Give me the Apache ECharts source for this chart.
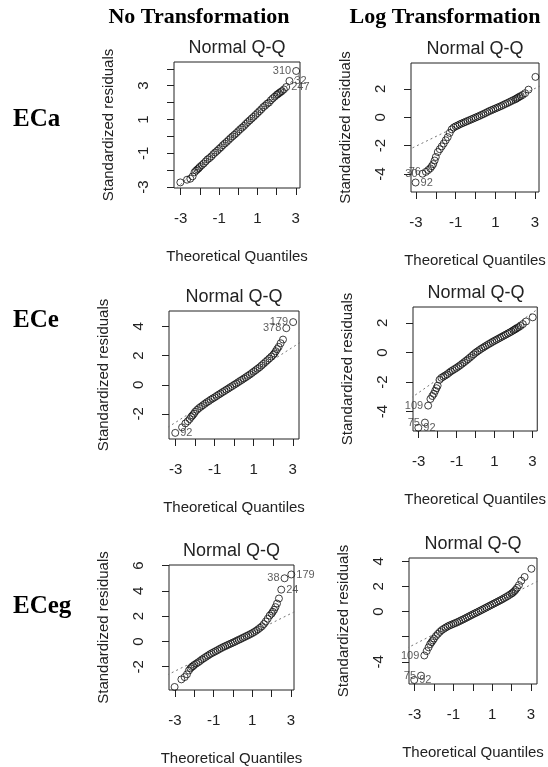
<!DOCTYPE html>
<html>
<head>
<meta charset="utf-8">
<script src="https://cdn.jsdelivr.net/npm/echarts@6/dist/echarts.min.js"></script>
<style>
  html, body { margin: 0; padding: 0; background: #fff; }
  #chart { width: 548px; height: 767px; }
</style>
</head>
<body>
<div id="chart"></div>
<script>
// theoretical quantiles, shared by the six panels
const quantiles = [-3.02, -2.67, -2.5, -2.38, -2.28, -2.2, -2.13, -2.06, -2.0,
  -1.9, -1.8, -1.7, -1.6, -1.5, -1.4, -1.3, -1.2, -1.1, -1.0,
  -0.9, -0.8, -0.7, -0.6, -0.5, -0.4, -0.3, -0.2, -0.1, 0.0,
  0.1, 0.2, 0.3, 0.4, 0.5, 0.6, 0.7, 0.8, 0.9, 1.0,
  1.1, 1.2, 1.3, 1.4, 1.5, 1.6, 1.7, 1.8, 1.9,
  2.0, 2.06, 2.13, 2.2, 2.28, 2.38, 2.5, 2.67, 3.02]

// standardized residuals
const ecaRaw = [-2.72, -2.56, -2.5, -2.36, -2.12, -2.02, -1.95, -1.88, -1.8,
  -1.7, -1.6, -1.48, -1.36, -1.28, -1.18, -1.05, -0.95, -0.85, -0.74,
  -0.64, -0.52, -0.42, -0.32, -0.21, -0.1, 0.0, 0.1, 0.2, 0.31,
  0.42, 0.52, 0.62, 0.74, 0.85, 0.95, 1.06, 1.16, 1.27, 1.38,
  1.49, 1.6, 1.73, 1.82, 1.93, 2.0, 2.14, 2.25, 2.35,
  2.45, 2.5, 2.56, 2.62, 2.68, 2.78, 2.92, 3.28, 3.87]
const ecaLog = [-4.6, -3.98, -3.85, -3.72, -3.6, -3.45, -3.3, -3.05, -2.8,
  -2.45, -2.25, -2.05, -1.85, -1.62, -1.4, -1.1, -0.85, -0.72, -0.64,
  -0.58, -0.5, -0.44, -0.38, -0.32, -0.26, -0.2, -0.14, -0.08, -0.02,
  0.04, 0.1, 0.17, 0.23, 0.3, 0.37, 0.44, 0.5, 0.56, 0.62,
  0.68, 0.74, 0.8, 0.87, 0.94, 1.0, 1.07, 1.14, 1.21,
  1.27, 1.32, 1.38, 1.44, 1.5, 1.58, 1.7, 1.95, 2.85]
const eceRaw = [-3.3, -2.92, -2.65, -2.5, -2.35, -2.2, -2.1, -1.98, -1.85,
  -1.72, -1.6, -1.5, -1.4, -1.3, -1.2, -1.12, -1.02, -0.94, -0.86,
  -0.77, -0.68, -0.6, -0.51, -0.43, -0.34, -0.26, -0.17, -0.09, 0.0,
  0.08, 0.17, 0.26, 0.34, 0.43, 0.52, 0.61, 0.7, 0.8, 0.9,
  1.0, 1.1, 1.2, 1.32, 1.44, 1.56, 1.68, 1.8, 1.93,
  2.05, 2.15, 2.3, 2.45, 2.6, 2.85, 3.1, 3.88, 4.3]
const eceLog = [-5.1, -4.75, -3.6, -3.15, -2.95, -2.8, -2.6, -2.42, -2.25,
  -1.85, -1.72, -1.64, -1.56, -1.48, -1.38, -1.28, -1.2, -1.12, -1.04,
  -0.95, -0.86, -0.76, -0.66, -0.56, -0.46, -0.35, -0.24, -0.13, -0.02,
  0.07, 0.16, 0.25, 0.33, 0.41, 0.49, 0.57, 0.64, 0.72, 0.79,
  0.86, 0.93, 1.0, 1.07, 1.14, 1.21, 1.28, 1.35, 1.42,
  1.5, 1.55, 1.6, 1.66, 1.72, 1.8, 1.92, 2.1, 2.38]
const ecegRaw = [-3.6, -3.0, -2.82, -2.6, -2.3, -2.12, -2.02, -1.95, -1.85,
  -1.75, -1.65, -1.54, -1.42, -1.32, -1.22, -1.12, -1.02, -0.93, -0.85,
  -0.77, -0.69, -0.6, -0.52, -0.44, -0.37, -0.3, -0.23, -0.16, -0.09,
  -0.02, 0.06, 0.13, 0.2, 0.28, 0.35, 0.43, 0.5, 0.58, 0.66,
  0.75, 0.85, 0.96, 1.08, 1.2, 1.38, 1.58, 1.8, 2.05,
  2.2, 2.35, 2.5, 2.72, 3.0, 3.4, 4.1, 5.0, 5.3]
const ecegLog = [-5.45, -5.1, -3.5, -3.15, -2.85, -2.6, -2.45, -2.3, -2.15,
  -1.95, -1.78, -1.62, -1.48, -1.38, -1.28, -1.19, -1.11, -1.05, -0.98,
  -0.92, -0.85, -0.78, -0.7, -0.63, -0.55, -0.47, -0.39, -0.31, -0.23,
  -0.15, -0.08, 0.0, 0.08, 0.16, 0.24, 0.32, 0.4, 0.48, 0.56,
  0.64, 0.72, 0.8, 0.88, 0.96, 1.05, 1.14, 1.23, 1.33,
  1.43, 1.5, 1.6, 1.72, 1.88, 2.1, 2.45, 2.75, 3.4]

// labelled observations [quantile, residual, id]
const ecaRawIds = [[3.02, 3.87, '310'], [2.67, 3.28, '32'], [2.5, 2.92, '247']]
const ecaLogIds = [[-3.02, -4.6, '92'], [-2.67, -3.98, '30'], [-2.5, -3.85, '76']]
const eceRawIds = [[-3.02, -3.3, '92'], [2.67, 3.88, '378'], [3.02, 4.3, '179']]
const eceLogIds = [[-3.02, -5.1, '92'], [-2.67, -4.75, '75'], [-2.5, -3.6, '109']]
const ecegRawIds = [[3.02, 5.3, '179'], [2.67, 5.0, '38'], [2.5, 4.1, '24']]
const ecegLogIds = [[-3.02, -5.45, '92'], [-2.67, -5.1, '75'], [-2.5, -3.5, '109']]

// qqline end points
const ecaRawLine = [[-3.4, -3.25], [3.3, 3.79]]
const ecaLogLine = [[-3.4, -2.31], [3.3, 2.24]]
const eceRawLine = [[-3.4, -2.92], [3.4, 2.92]]
const eceLogLine = [[-3.4, -3.08], [3.3, 2.95]]
const ecegRawLine = [[-3.4, -2.65], [3.2, 2.36]]
const ecegLogLine = [[-3.4, -2.92], [3.4, 2.46]]

// axis ticks
const xTicks = [-3, -2, -1, 0, 1, 2, 3]
const xTickLabels = [-3, -1, 1, 3]
const yTicks = [[-3, -2, -1, 0, 1, 2, 3, 4], [-4, -2, 0, 2], [-2, 0, 2, 4], [-4, -2, 0, 2], [-2, 0, 2, 4, 6], [-4, -2, 0, 2, 4]]
const yTickLabels = [[-3, -1, 1, 3], [-4, -2, 0, 2], [-2, 0, 2, 4], [-4, -2, 0, 2], [-2, 0, 2, 4, 6], [-4, 0, 2, 4]]

const rowNames = ['ECa', 'ECe', 'ECeg']
const colNames = ['No Transformation', 'Log Transformation']

const panels = [
  { rect: [174, 62, 126, 126], x: [-3.35, 3.22], y: [-3.05, 4.4], resid: ecaRaw, ids: ecaRawIds, idPos: ['left', 'right', 'right'], line: ecaRawLine },
  { rect: [411, 63, 128, 129], x: [-3.25, 3.2], y: [-5.27, 3.83], resid: ecaLog, ids: ecaLogIds, idPos: ['right', 'left', 'left'], line: ecaLogLine },
  { rect: [169, 311, 130, 128], x: [-3.34, 3.32], y: [-3.72, 5.06], resid: eceRaw, ids: eceRawIds, idPos: ['right', 'left', 'left'], line: eceRawLine },
  { rect: [413, 307, 126, 124], x: [-3.3, 3.26], y: [-5.32, 3.08], resid: eceLog, ids: eceLogIds, idPos: ['right', 'left', 'left'], line: eceLogLine },
  { rect: [169, 565, 125, 126], x: [-3.31, 3.16], y: [-3.84, 6.05], resid: ecegRaw, ids: ecegRawIds, idPos: ['right', 'left', 'right'], line: ecegRawLine },
  { rect: [409, 558, 128, 126], x: [-3.29, 3.31], y: [-5.77, 4.26], resid: ecegLog, ids: ecegLogIds, idPos: ['right', 'left', 'left'], line: ecegLogLine }
]

const ink = '#222'
const sans = 'Liberation Sans'

const grid = [], xAxis = [], yAxis = [], series = [], graphic = []

panels.forEach((p, i) => {
  grid.push({
    left: p.rect[0], top: p.rect[1], width: p.rect[2], height: p.rect[3],
    show: true, borderColor: ink, borderWidth: 1, backgroundColor: 'transparent'
  })
  xAxis.push({
    type: 'value', gridIndex: i, min: p.x[0], max: p.x[1],
    axisLine: { show: false, onZero: false },
    axisTick: { show: true, length: 7, customValues: xTicks, lineStyle: { color: ink } },
    axisLabel: { customValues: xTickLabels, margin: 23, fontSize: 15, color: ink, fontFamily: sans },
    splitLine: { show: false },
    name: 'Theoretical Quantiles', nameLocation: 'middle', nameGap: 61,
    nameTextStyle: { fontSize: 15, color: ink, fontFamily: sans }
  })
  yAxis.push({
    type: 'value', gridIndex: i, min: p.y[0], max: p.y[1],
    axisLine: { show: false, onZero: false },
    axisTick: { show: true, length: 7, customValues: yTicks[i], lineStyle: { color: ink } },
    axisLabel: { customValues: yTickLabels[i], margin: 23, rotate: 90, fontSize: 15, color: ink, fontFamily: sans },
    splitLine: { show: false },
    name: 'Standardized residuals', nameLocation: 'middle', nameGap: 58,
    nameTextStyle: { fontSize: 15, color: ink, fontFamily: sans }
  })
  series.push({
    type: 'line', xAxisIndex: i, yAxisIndex: i, data: p.line,
    symbol: 'none', clip: true, silent: true, z: 1,
    lineStyle: { color: '#777', width: 1, type: [2, 3] }
  })
  series.push({
    type: 'scatter', xAxisIndex: i, yAxisIndex: i, z: 2,
    data: quantiles.map((q, k) => [q, p.resid[k]]),
    symbol: 'circle', symbolSize: 7,
    itemStyle: { color: 'transparent', borderColor: '#111', borderWidth: 1 }
  })
  series.push({
    type: 'scatter', xAxisIndex: i, yAxisIndex: i, z: 3,
    data: p.ids.map((d, k) => ({ value: [d[0], d[1]], name: d[2], label: { position: p.idPos[k] } })),
    symbol: 'circle', symbolSize: 7,
    itemStyle: { color: 'transparent', borderColor: 'transparent' },
    label: { show: true, formatter: '{b}', fontSize: 11, color: '#333', fontFamily: sans, distance: 1 }
  })
  graphic.push({
    type: 'text', x: p.rect[0] + p.rect[2] / 2, y: p.rect[1] - 14,
    style: { text: 'Normal Q-Q', font: '18px "Liberation Sans"', fill: ink,
      align: 'center', verticalAlign: 'middle', textAlign: 'center', textVerticalAlign: 'middle' }
  })
})

const headX = [199, 445]
colNames.forEach((t, i) => {
  graphic.push({
    type: 'text', x: headX[i], y: 17,
    style: { text: t, font: 'bold 22px "Liberation Serif"', fill: '#000',
      align: 'center', verticalAlign: 'middle', textAlign: 'center', textVerticalAlign: 'middle' }
  })
})
const rowY = [120, 321, 607]
rowNames.forEach((t, i) => {
  graphic.push({
    type: 'text', x: 13, y: rowY[i],
    style: { text: t, font: 'bold 25px "Liberation Serif"', fill: '#000',
      align: 'left', verticalAlign: 'middle', textAlign: 'left', textVerticalAlign: 'middle' }
  })
})

const chart = echarts.init(document.getElementById('chart'))
chart.setOption({
  animation: false,
  backgroundColor: '#fff',
  grid: grid,
  xAxis: xAxis,
  yAxis: yAxis,
  series: series,
  graphic: graphic
})
</script>
</body>
</html>
